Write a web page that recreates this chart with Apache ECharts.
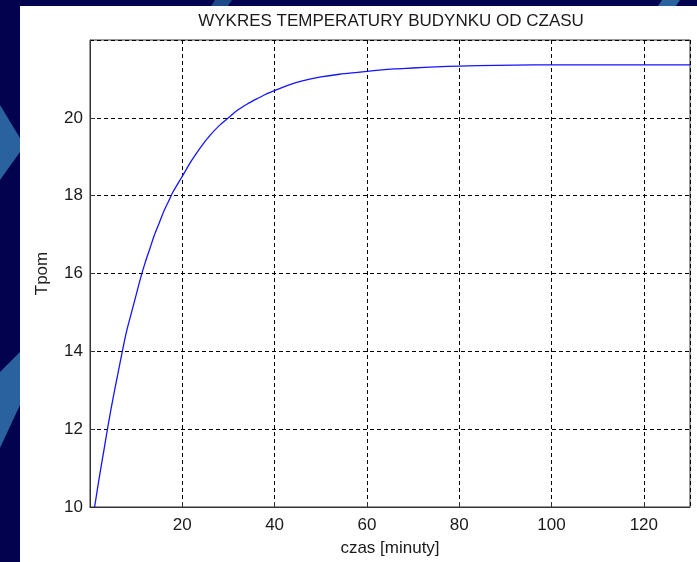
<!DOCTYPE html>
<html>
<head>
<meta charset="utf-8">
<script src="https://cdn.jsdelivr.net/npm/echarts@6/dist/echarts.min.js"></script>
<style>
  html, body { margin: 0; padding: 0; background: #02024e; }
  #chart { width: 697px; height: 562px; }
</style>
</head>
<body>
<div id="chart"></div>
<script>
// czas [minuty]
const czas = [1, 2, 3, 4, 5, 6, 7, 8, 9, 10, 11, 12, 13, 14, 15, 16, 17, 18, 20, 22, 24, 26, 28, 30, 32, 34, 36, 38, 40, 43, 46, 50, 54, 58, 62, 66, 70, 75, 80, 88, 96, 110, 130]
// temperatura pomieszczenia
const tpom = [10.0, 10.75, 11.45, 12.15, 12.8, 13.4, 14.0, 14.55, 15.0, 15.45, 15.9, 16.3, 16.65, 17.0, 17.3, 17.6, 17.85, 18.1, 18.5, 18.9, 19.25, 19.55, 19.8, 20.0, 20.2, 20.35, 20.48, 20.6, 20.7, 20.84, 20.95, 21.05, 21.12, 21.17, 21.22, 21.26, 21.28, 21.31, 21.33, 21.35, 21.36, 21.36, 21.36]

const seriesData = czas.map(function(t, i) {
  return [t, tpom[i]]
})

const myChart = echarts.init(document.getElementById('chart'))
const fontFamily = '"Liberation Sans", Arial, sans-serif'

myChart.setOption({
  backgroundColor: '#02024e',
  animation: false,
  graphic: [
    // pasy tla slajdu
    { type: 'polygon', silent: true, z: -10, shape: { points: [[0, 105], [20, 138], [20, 152], [0, 180]] }, style: { fill: '#2a62a0' } },
    { type: 'polygon', silent: true, z: -10, shape: { points: [[0, 372], [20, 352], [20, 405], [0, 448]] }, style: { fill: '#2a62a0' } },
    { type: 'polygon', silent: true, z: -10, shape: { points: [[215, 0], [232, 0], [228, 6], [211, 6]] }, style: { fill: '#1e4a8a' } },
    { type: 'polygon', silent: true, z: -10, shape: { points: [[662, 0], [680, 0], [676, 6], [658, 6]] }, style: { fill: '#2a62a0' } },
    // biale tlo wykresu
    { type: 'rect', silent: true, z: -5, shape: { x: 20, y: 6, width: 677, height: 556 }, style: { fill: '#ffffff' } }
  ],
  title: {
    text: 'WYKRES TEMPERATURY BUDYNKU OD CZASU',
    left: 386,
    top: 8,
    textAlign: 'center',
    textStyle: {
      color: '#1a1a1a',
      fontFamily: fontFamily,
      fontSize: 17,
      fontWeight: 'normal'
    }
  },
  grid: {
    left: 90,
    right: 7,
    top: 40,
    bottom: 51,
    show: true,
    borderColor: '#333333',
    borderWidth: 1,
    backgroundColor: '#ffffff'
  },
  xAxis: {
    type: 'value',
    min: 0,
    max: 130,
    interval: 20,
    name: 'czas [minuty]',
    nameLocation: 'center',
    nameGap: 33,
    nameTextStyle: {
      color: '#1a1a1a',
      fontFamily: fontFamily,
      fontSize: 17
    },
    axisLine: { show: true, lineStyle: { color: '#333333' } },
    axisTick: { show: true, inside: true, length: 5, lineStyle: { color: '#333333' } },
    axisLabel: {
      showMinLabel: false,
      showMaxLabel: false,
      color: '#1a1a1a',
      fontFamily: fontFamily,
      fontSize: 17,
      margin: 10
    },
    splitLine: {
      show: true,
      lineStyle: { color: '#000000', type: [4, 3], width: 1 }
    }
  },
  yAxis: {
    type: 'value',
    min: 10,
    max: 22,
    interval: 2,
    name: 'Tpom',
    nameLocation: 'center',
    nameGap: 39,
    nameTextStyle: {
      color: '#1a1a1a',
      fontFamily: fontFamily,
      fontSize: 17
    },
    axisLine: { show: true, lineStyle: { color: '#333333' } },
    axisTick: { show: true, inside: true, length: 5, lineStyle: { color: '#333333' } },
    axisLabel: {
      showMaxLabel: false,
      color: '#1a1a1a',
      fontFamily: fontFamily,
      fontSize: 17,
      margin: 7
    },
    splitLine: {
      show: true,
      lineStyle: { color: '#000000', type: [4, 3], width: 1 }
    }
  },
  series: [
    {
      type: 'line',
      data: seriesData,
      showSymbol: false,
      smooth: 0.3,
      lineStyle: { color: '#1414ff', width: 1.3 }
    }
  ]
})
window.addEventListener('resize', function() {
  myChart.resize()
})
</script>
</body>
</html>
